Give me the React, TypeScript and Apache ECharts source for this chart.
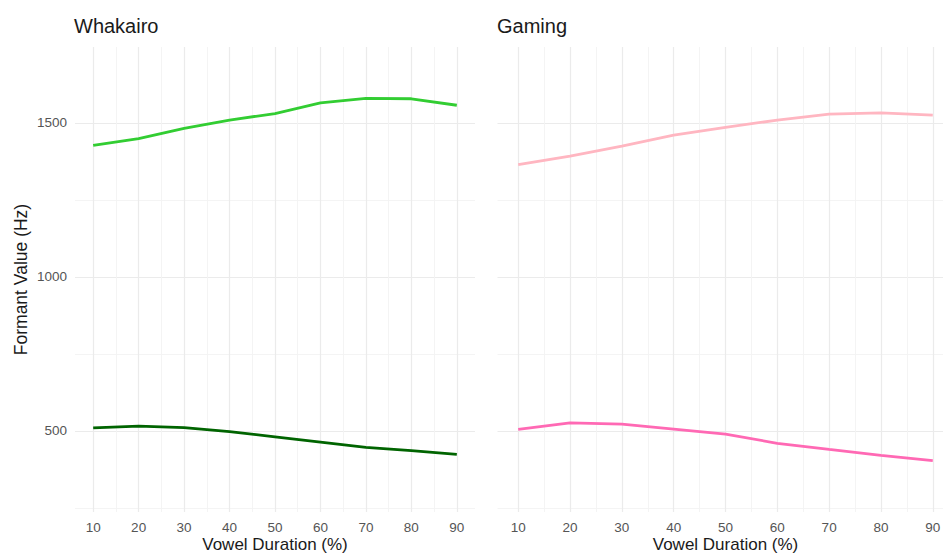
import React, { useEffect, useRef } from "react";
import * as echarts from "echarts";

const durations = [10, 20, 30, 40, 50, 60, 70, 80, 90];
const whakairoUpper = [1427, 1449, 1482, 1509, 1530, 1565, 1579, 1578, 1557];
const whakairoLower = [510, 516, 511, 498, 481, 464, 447, 436, 424];
const gamingUpper = [1364, 1392, 1424, 1460, 1485, 1509, 1528, 1532, 1525];
const gamingLower = [505, 526, 522, 506, 490, 460, 440, 421, 404];
const panelTitles = ["Whakairo", "Gaming"];
const xTitle = "Vowel Duration (%)";
const yTitle = "Formant Value (Hz)";

const FONT = "'Liberation Sans', Arial, Helvetica, sans-serif";
const MAJOR = "#EBEBEB";
const MINOR = "#F3F3F3";

function pairs(ys: number[]) {
  return durations.map((x, i) => [x, ys[i]]);
}

function xAxis(gridIndex: number) {
  return {
    type: "value",
    gridIndex,
    min: 6,
    max: 94,
    splitNumber: 8,
    axisLine: { show: false },
    axisTick: { show: false },
    axisLabel: {
      show: true,
      showMinLabel: false,
      showMaxLabel: false,
      color: "#555555",
      fontFamily: FONT,
      fontSize: 13.5,
      margin: 8,
      formatter: (v: number) => String(v),
    },
    splitLine: {
      show: true,
      showMinLine: false,
      showMaxLine: false,
      lineStyle: { color: MAJOR, width: 1.2 },
    },
    minorTick: { show: false, splitNumber: 2 },
    minorSplitLine: { show: true, lineStyle: { color: MINOR, width: 0.9 } },
    name: xTitle,
    nameLocation: "middle",
    nameMoveOverlap: false,
    nameGap: 24,
    nameTextStyle: { color: "#1a1a1a", fontFamily: FONT, fontSize: 17, lineHeight: 17 },
  };
}

function yAxis(gridIndex: number, showLabels: boolean) {
  return {
    type: "value",
    gridIndex,
    min: 237,
    max: 1746,
    splitNumber: 3,
    axisLine: { show: false },
    axisTick: { show: false },
    axisLabel: {
      show: showLabels,
      showMinLabel: false,
      showMaxLabel: false,
      color: "#555555",
      fontFamily: FONT,
      fontSize: 13.5,
      margin: 8,
      formatter: (v: number) => String(v),
    },
    splitLine: {
      show: true,
      showMinLine: false,
      showMaxLine: false,
      lineStyle: { color: MAJOR, width: 1.2 },
    },
    minorTick: { show: false, splitNumber: 2 },
    minorSplitLine: { show: true, lineStyle: { color: MINOR, width: 0.9 } },
    name: showLabels ? yTitle : "",
    nameLocation: "middle",
    nameMoveOverlap: false,
    nameGap: 45,
    nameRotate: 90,
    nameTextStyle: { color: "#1a1a1a", fontFamily: FONT, fontSize: 17.5 },
  };
}

function lineSeries(idx: number, ys: number[], color: string) {
  return {
    type: "line",
    xAxisIndex: idx,
    yAxisIndex: idx,
    data: pairs(ys),
    showSymbol: false,
    symbol: "none",
    lineStyle: { color, width: 2.8 },
    silent: true,
  };
}

export default function App() {
  const ref = useRef<HTMLDivElement>(null);
  useEffect(() => {
    if (!ref.current) return;
    const chart = echarts.init(ref.current, null, { renderer: "svg" });
    chart.setOption({
      animation: false,
      backgroundColor: "#ffffff",
      title: [
        {
          text: panelTitles[0],
          left: 74,
          top: 16,
          padding: 0,
          textStyle: { color: "#1a1a1a", fontFamily: FONT, fontSize: 20, fontWeight: "normal" },
        },
        {
          text: panelTitles[1],
          left: 497,
          top: 16,
          padding: 0,
          textStyle: { color: "#1a1a1a", fontFamily: FONT, fontSize: 20, fontWeight: "normal" },
        },
      ],
      grid: [
        { left: 75, top: 47, width: 400, height: 465, outerBoundsMode: "none", containLabel: false },
        { left: 497.5, top: 47, width: 456, height: 465, outerBoundsMode: "none", containLabel: false },
      ],
      xAxis: [xAxis(0), xAxis(1)],
      yAxis: [yAxis(0, true), yAxis(1, false)],
      series: [
        lineSeries(0, whakairoUpper, "#32CD32"),
        lineSeries(0, whakairoLower, "#006400"),
        lineSeries(1, gamingUpper, "#FFB6C1"),
        lineSeries(1, gamingLower, "#FF69B4"),
      ],
    });
    return () => chart.dispose();
  }, []);
  return (
    <div
      ref={ref}
      style={{ position: "absolute", left: 0, top: 0, width: 943, height: 554 }}
    />
  );
}
